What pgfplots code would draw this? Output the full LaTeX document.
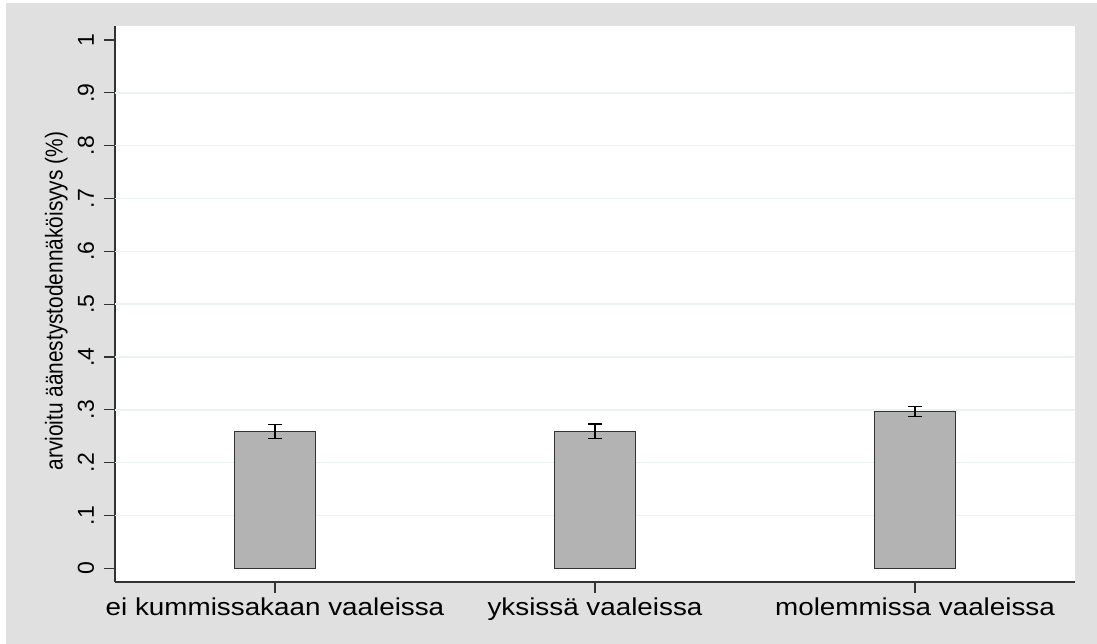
\documentclass[border=0pt]{standalone}
\usepackage{pgfplots}
\pgfplotsset{compat=1.18}
\usepackage{fontspec}
\setmainfont{Liberation Sans}
\newfontfamily\xlabfont[FakeStretch=1.14]{Liberation Sans}
\newfontfamily\ylabfont[FakeStretch=0.855]{Liberation Sans}
\definecolor{outerbg}{RGB}{224,224,224}
\definecolor{gridc}{RGB}{234,242,243}
\definecolor{barfill}{RGB}{179,179,179}
\definecolor{axisc}{RGB}{51,51,51}
\begin{document}
\begin{tikzpicture}
\fill[white] (0,0) rectangle (1097pt,644pt);
\fill[outerbg] (6pt,0) rectangle (1097pt,641pt);
\begin{axis}[
  at={(115pt,62pt)}, anchor=south west,
  scale only axis, width=960pt, height=556pt,
  xmin=-0.5, xmax=2.5, ymin=-0.026, ymax=1.0265,
  axis background/.style={fill=white},
  axis x line*=bottom, axis y line*=left,
  axis line style={draw=axisc, line width=1.5pt},
  xtick={0,1,2},
  xticklabels={ei kummissakaan vaaleissa, yksissä vaaleissa, molemmissa vaaleissa},
  ytick={0,0.1,0.2,0.3,0.4,0.5,0.6,0.7,0.8,0.9,1},
  yticklabels={0,.1,.2,.3,.4,.5,.6,.7,.8,.9,1},
  extra y ticks={0.1,0.2,0.3,0.4,0.5,0.6,0.7,0.8,0.9},
  extra y tick labels={},
  extra y tick style={grid=major},
  major grid style={draw=gridc, line width=1.5pt},
  tick align=outside, major tick length=11pt,
  tick style={draw=axisc, line width=1.2pt},
  xticklabel style={font=\xlabfont\fontsize{24.4}{28}\selectfont, anchor=base, yshift=-22.5pt},
  yticklabel style={font=\fontsize{23}{27}\selectfont, xshift=-10pt, rotate=90, anchor=base},
  ylabel={arvioitu äänestystodennäköisyys (\%)},
  ylabel style={font=\ylabfont\fontsize{24.4}{28}\selectfont, at={(axis description cs:-0.0545,0.505)}, anchor=base},
]
\addplot[ybar, bar width=81pt, fill=barfill, draw=axisc, line width=1.2pt,
  error bars/.cd, y dir=both, y explicit,
  error bar style={black, line width=1.2pt},
  error mark options={rotate=90, mark size=6.85pt, black, line width=1.2pt}]
  coordinates {(0,0.259) +- (0,0.0133) (1,0.259) +- (0,0.0139) (2,0.2967) +- (0,0.0095)};
\end{axis}
\end{tikzpicture}
\end{document}
